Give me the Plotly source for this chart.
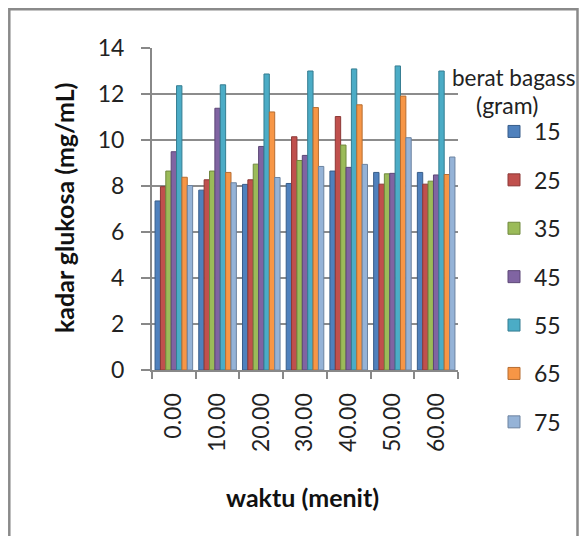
import plotly.graph_objects as go

# ---- data ----
categories = ["0.00", "10.00", "20.00", "30.00", "40.00", "50.00", "60.00"]
series_names = ["15", "25", "35", "45", "55", "65", "75"]
s15 = [7.35, 7.82, 8.07, 8.11, 8.65, 8.59, 8.59]
s25 = [7.97, 8.27, 8.27, 10.14, 11.02, 8.08, 8.08]
s35 = [8.65, 8.65, 8.95, 9.11, 9.78, 8.53, 8.21]
s45 = [9.49, 11.38, 9.72, 9.33, 8.81, 8.55, 8.48]
s55 = [12.36, 12.40, 12.87, 13.00, 13.09, 13.22, 13.00]
s65 = [8.38, 8.59, 11.22, 11.41, 11.53, 11.91, 8.50]
s75 = [8.02, 8.14, 8.37, 8.85, 8.94, 10.10, 9.26]
series_values = [s15, s25, s35, s45, s55, s65, s75]
y_ticks = [0, 2, 4, 6, 8, 10, 12, 14]

colors = ["#4F81BD", "#C0504D", "#9BBB59", "#8064A2", "#4BACC6", "#F79646", "#95B3D7"]
edges = ["#385D8A", "#8C3836", "#71893F", "#5C4776", "#357D91", "#B66D31", "#6C83A0"]

OFF = 8  # page body margin
W, H = 587 - 2 * OFF, 544 - 2 * OFF
# target positions in screenshot pixels
L, R, T, B = 152, 458, 48, 370
def px(x):
    return (x - L) / (R - L)
def py(y):
    return (B - y) / (B - T)

FONT = "Lato, 'Open Sans', sans-serif"
TS = 23

fig = go.Figure()
for name, vals, c, e in zip(series_names, series_values, colors, edges):
    fig.add_trace(go.Bar(
        x=categories, y=vals, name=name, legendgroup=name,
        marker=dict(color=c, line=dict(color=e, width=1)),
    ))

fig.update_layout(
    width=W, height=H, autosize=False,
    margin=dict(l=L - OFF, r=W - (R - OFF), t=T - OFF, b=H - (B - OFF), pad=0),
    paper_bgcolor="white", plot_bgcolor="white",
    barmode="group", bargap=0.14, bargroupgap=0,
    font=dict(family=FONT, size=TS, color="#222222"),
    showlegend=True,
    legend=dict(
        x=px(494), y=py(110), xanchor="left", yanchor="top",
        font=dict(size=TS, color="#222222"),
        tracegroupgap=15.5, traceorder="grouped", maxheight=500,
        bgcolor="rgba(0,0,0,0)",
    ),
    xaxis=dict(
        type="category", tickangle=-90, tickson="boundaries",
        ticks="outside", ticklen=7, tickcolor="#888888", tickwidth=2,
        ticklabelstandoff=12,
        showline=True, linecolor="#888888", linewidth=2,
        showgrid=False, tickfont=dict(size=TS, color="#222222"),
    ),
    yaxis=dict(
        range=[0, 14], tickvals=y_ticks, ticks="outside", ticklen=9,
        tickcolor="#888888", tickwidth=2, ticklabelstandoff=12,
        showline=True, linecolor="#888888", linewidth=2,
        showgrid=True, gridcolor="#8c8c8c", gridwidth=1.5,
        zeroline=False, tickfont=dict(size=TS, color="#222222"),
    ),
    shapes=[
        dict(type="rect", xref="paper", yref="paper",
             x0=px(9.3), x1=px(577.5), y0=py(600), y1=py(9.3),
             line=dict(color="#8a8a8a", width=2.5), fillcolor="rgba(0,0,0,0)", layer="above"),
    ],
    annotations=[
        dict(text="<b>kadar glukosa (mg/mL)</b>", textangle=-90,
             xref="paper", yref="paper", x=px(64), y=py(208),
             xanchor="center", yanchor="middle", showarrow=False,
             font=dict(size=25, color="#111111")),
        dict(text="<b>waktu (menit)</b>",
             xref="paper", yref="paper", x=px(302), y=py(497),
             xanchor="center", yanchor="middle", showarrow=False,
             font=dict(size=25, color="#111111")),
        dict(text="berat bagass",
             xref="paper", yref="paper", x=px(450), y=py(78),
             xanchor="left", yanchor="middle", showarrow=False,
             font=dict(size=22.5, color="#222222")),
        dict(text="(gram)",
             xref="paper", yref="paper", x=px(507), y=py(105),
             xanchor="center", yanchor="middle", showarrow=False,
             font=dict(size=TS, color="#222222")),
    ],
)

fig.write_html("out.html")
